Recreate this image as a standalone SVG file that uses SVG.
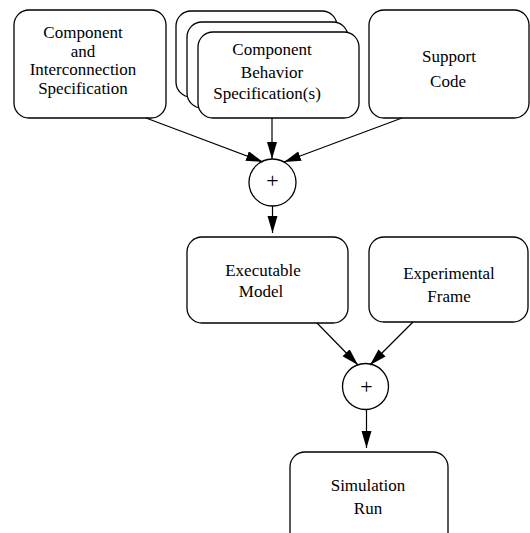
<svg xmlns="http://www.w3.org/2000/svg" width="530" height="533" viewBox="0 0 530 533">
<style>
.box{fill:#fff;stroke:#000;stroke-width:1.3}
.t{font-family:"Liberation Serif","Times New Roman",serif;font-size:17px;fill:#000;text-anchor:middle}
.e{stroke:#000;stroke-width:1.2;fill:none}
.p{font-family:"Liberation Serif","Times New Roman",serif;font-size:22px;fill:#000;text-anchor:middle}
</style>
<defs>
<marker id="ah" markerUnits="userSpaceOnUse" markerWidth="18" markerHeight="11" refX="17" refY="5" orient="auto">
<path d="M0,0 L17,5 L0,10 z" fill="#000"/>
</marker>
</defs>
<rect width="530" height="533" fill="#fff"/>
<g id="n-cis">
<rect class="box" x="14" y="10" width="152" height="108" rx="15"/>
<text class="t" x="83" y="38">Component</text>
<text class="t" x="83" y="56.5">and</text>
<text class="t" x="83" y="75">Interconnection</text>
<text class="t" x="83" y="93.5">Specification</text>
</g>
<g id="n-cbs">
<rect class="box" x="176" y="11" width="161" height="86" rx="15"/>
<rect class="box" x="187" y="22" width="161" height="86" rx="15"/>
<rect class="box" x="198" y="32" width="161" height="86" rx="15"/>
<text class="t" x="272" y="55">Component</text>
<text class="t" x="272" y="78">Behavior</text>
<text class="t" x="267" y="99">Specification(s)</text>
</g>
<g id="n-sc">
<rect class="box" x="369" y="10" width="160" height="108" rx="15"/>
<text class="t" x="449" y="62">Support</text>
<text class="t" x="448" y="87">Code</text>
</g>
<g id="n-plus1">
<circle class="box" cx="272.5" cy="182.5" r="23.5"/>
<text class="p" x="272.5" y="188">+</text>
</g>
<g id="n-em">
<rect class="box" x="187" y="237" width="161" height="86" rx="15"/>
<text class="t" x="263" y="276">Executable</text>
<text class="t" x="261" y="297">Model</text>
</g>
<g id="n-ef">
<rect class="box" x="369" y="237" width="159" height="85" rx="15"/>
<text class="t" x="449" y="279">Experimental</text>
<text class="t" x="449" y="302">Frame</text>
</g>
<g id="n-plus2">
<circle class="box" cx="365.5" cy="386.5" r="23"/>
<text class="p" x="366.5" y="394">+</text>
</g>
<g id="n-sr">
<rect class="box" x="290" y="452" width="158" height="100" rx="15"/>
<text class="t" x="368" y="491">Simulation</text>
<text class="t" x="368" y="514">Run</text>
</g>
<g id="edges">
<line class="e" x1="146" y1="118" x2="263" y2="162" marker-end="url(#ah)"/>
<line class="e" x1="272" y1="118" x2="272" y2="159" marker-end="url(#ah)"/>
<line class="e" x1="402" y1="118" x2="284" y2="162" marker-end="url(#ah)"/>
<line class="e" x1="272.5" y1="206" x2="272.5" y2="233" marker-end="url(#ah)"/>
<line class="e" x1="317" y1="323" x2="358" y2="365" marker-end="url(#ah)"/>
<line class="e" x1="413" y1="322" x2="370" y2="365" marker-end="url(#ah)"/>
<line class="e" x1="366.5" y1="409.5" x2="366.5" y2="448" marker-end="url(#ah)"/>
</g>
</svg>
